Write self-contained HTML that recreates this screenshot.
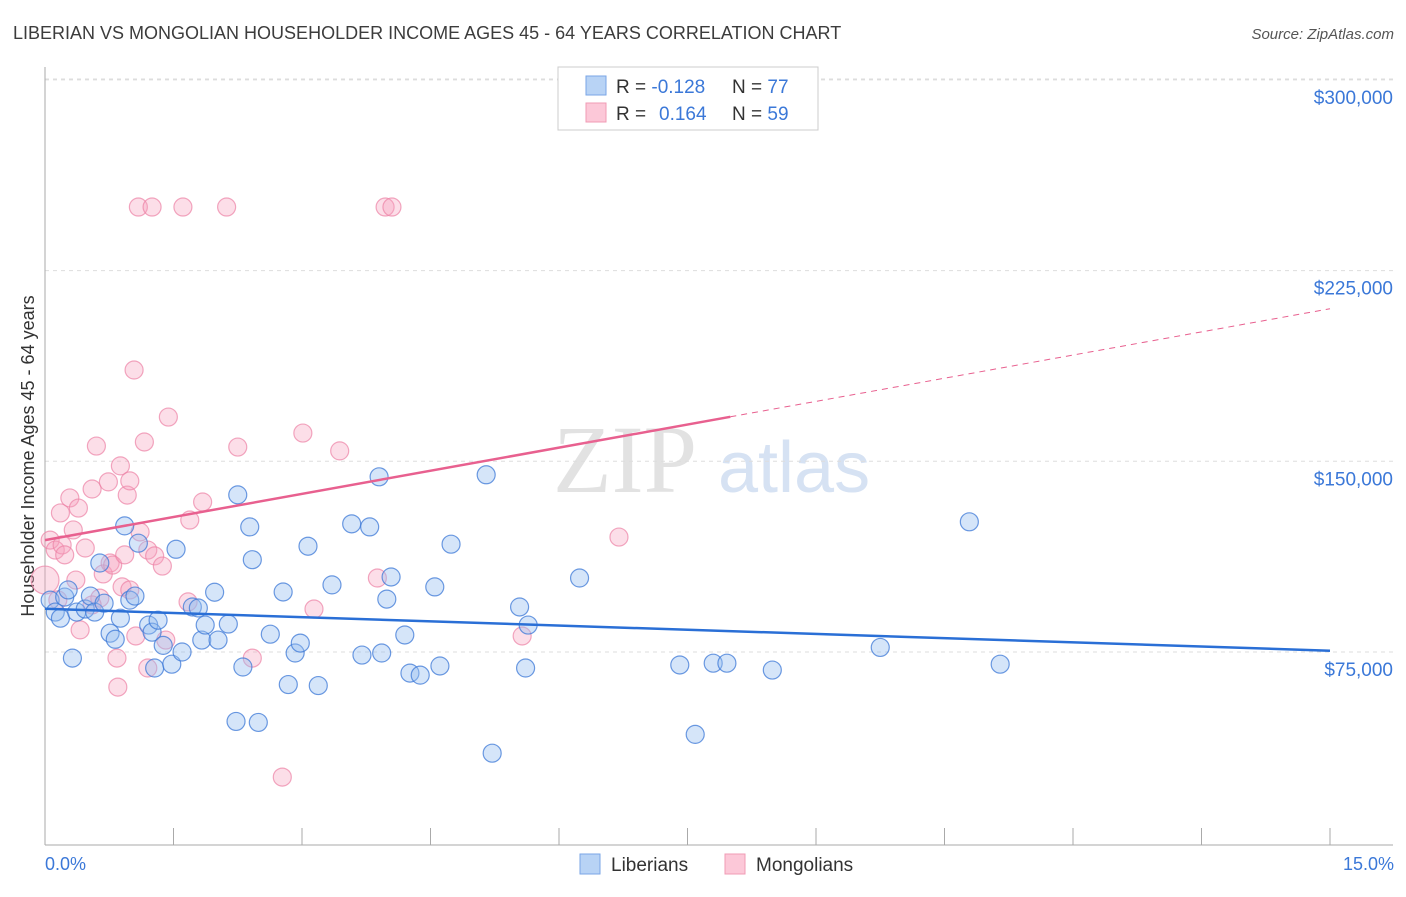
<!DOCTYPE html>
<html><head><meta charset="utf-8"><style>
body{margin:0;background:#fff;font-family:"Liberation Sans",sans-serif}
</style></head><body>
<svg id="chart" width="1406" height="892" xmlns="http://www.w3.org/2000/svg" font-family="Liberation Sans, sans-serif">
<text x="13" y="39" font-size="18" fill="#3c3c3c">LIBERIAN VS MONGOLIAN HOUSEHOLDER INCOME AGES 45 - 64 YEARS CORRELATION CHART</text>
<text x="1394" y="39" font-size="15" fill="#555" text-anchor="end" font-style="italic">Source: ZipAtlas.com</text>
<g><text x="553" y="492" font-size="96" fill="#e2e2e2" font-family="Liberation Serif, serif">ZIP</text><text x="718" y="492" font-size="72" fill="#d6e2f3">atlas</text></g>
<g id="grid"></g>
<line x1="45" y1="67" x2="45" y2="845" stroke="#aaa"/>
<line x1="45" y1="845" x2="1393" y2="845" stroke="#aaa"/>
<text transform="translate(34,456) rotate(-90)" font-size="18" fill="#333" text-anchor="middle">Householder Income Ages 45 - 64 years</text>
<text x="45" y="870" font-size="18" fill="#3b78d8">0.0%</text>
<text x="1394" y="870" font-size="18" fill="#3b78d8" text-anchor="end">15.0%</text>
<g id="pts"></g>
<g id="lines"></g>
<g>
<rect x="558" y="67" width="260" height="63" fill="#fff" stroke="#ccc"/>
<rect x="586" y="76" width="20" height="19" fill="#b8d3f5" stroke="#7aa6e6"/>
<rect x="586" y="103" width="20" height="19" fill="#fcc8d8" stroke="#f09bb5"/>
<text x="616" y="93" font-size="19" fill="#333">R = <tspan fill="#3b78d8">-0.128</tspan><tspan x="732">N = </tspan><tspan fill="#3b78d8">77</tspan></text>
<text x="616" y="120" font-size="19" fill="#333">R = <tspan x="659" fill="#3b78d8">0.164</tspan><tspan x="732">N = </tspan><tspan fill="#3b78d8">59</tspan></text>
</g>
<g>
<rect x="580" y="854" width="20" height="20" fill="#b8d3f5" stroke="#7aa6e6"/>
<text x="611" y="871" font-size="19" fill="#333">Liberians</text>
<rect x="725" y="854" width="20" height="20" fill="#fcc8d8" stroke="#f09bb5"/>
<text x="756" y="871" font-size="19" fill="#333">Mongolians</text>
</g>
</svg>
<script>
const yTicks=[75000,150000,225000,300000];
const yTickLabels=["$75,000","$150,000","$225,000","$300,000"];
const xTicks=[0,1.5,3,4.5,6,7.5,9,10.5,12,13.5,15];
const libX=[0.06,0.12,0.18,0.23,0.27,0.32,0.37,0.47,0.53,0.58,0.64,0.69,0.76,0.82,0.88,0.93,0.99,1.05,1.09,1.21,1.25,1.28,1.32,1.38,1.48,1.53,1.6,1.72,1.79,1.83,1.87,1.98,2.02,2.14,2.23,2.25,2.31,2.39,2.42,2.49,2.63,2.78,2.84,2.92,2.98,3.07,3.19,3.35,3.58,3.7,3.79,3.9,3.93,3.99,4.04,4.2,4.26,4.38,4.55,4.61,4.74,5.15,5.22,5.54,5.61,5.64,6.24,7.41,7.59,7.8,7.96,8.49,9.75,10.79,11.15];
const libY=[95.4,90.7,88.3,96.6,99.4,72.6,90.7,91.9,97,90.7,110,94.2,82.4,80,88.3,124.6,95.4,97,117.8,85.6,82.8,68.7,87.5,77.6,70.2,115.4,75,92.7,92.3,79.7,85.6,98.5,79.7,86,47.7,136.8,69.1,124.2,111.3,47.3,82,98.6,62.2,74.6,78.5,116.6,61.8,101.4,125.4,73.8,124.2,143.9,74.6,95.8,104.5,81.7,66.7,65.9,100.6,69.5,117.4,144.7,35.2,92.7,68.7,85.6,104.1,69.9,42.6,70.6,70.6,67.9,76.8,126.2,70.2];
const monX=[0.0,0.06,0.12,0.18,0.2,0.23,0.29,0.33,0.36,0.39,0.41,0.47,0.55,0.6,0.64,0.68,0.74,0.76,0.79,0.84,0.85,0.88,0.9,0.93,0.96,0.99,1.06,1.09,1.11,1.16,1.2,1.2,1.25,1.28,1.37,1.41,1.44,1.61,1.67,1.69,1.84,2.12,2.25,2.42,2.77,3.01,3.14,3.44,3.88,3.97,4.05,5.57,6.7,1.04,0.55,0.15,0.99];
const monY=[103.3,119.0,115.1,129.7,117.1,113.2,135.6,123.0,103.3,131.6,83.7,115.9,139.1,156.0,96.2,105.7,141.9,110.0,109.2,72.6,61.2,148.2,100.6,113.2,136.7,142.3,81.3,250,122.2,157.6,68.7,115.1,250,112.8,108.8,79.7,167.4,250,94.7,126.9,134.0,250,155.6,72.6,25.8,161.1,91.9,154.1,104.1,250,250,81.3,120.2,185.9,93.5,95.5,99.4];
const X=v=>45+v/15*1285;
const Y=v=>842.7-v/75000*190.7;
const NS="http://www.w3.org/2000/svg";
function mk(tag,attrs,parent){const e=document.createElementNS(NS,tag);for(const k in attrs)e.setAttribute(k,attrs[k]);parent.appendChild(e);return e;}
const grid=document.getElementById('grid');
yTicks.forEach((t,i)=>{
 const l=mk('line',{x1:45,x2:1393,y1:Y(t),y2:Y(t),stroke:'#ddd','stroke-dasharray':'4,4'},grid);
 
 
 const tx=mk('text',{x:1393,y:Y(t)+24,'font-size':19,fill:'#3b78d8','text-anchor':'end'},grid);
 tx.textContent=yTickLabels[i];
 
 
});
mk('line',{x1:45,x2:1393,y1:79,y2:79,stroke:'#ddd','stroke-dasharray':'4,4'},grid);
xTicks.forEach(t=>{
 const l=mk('line',{x1:X(t),x2:X(t),y1:828,y2:845,stroke:'#aaa'},grid);
 
 
});
const pts=document.getElementById('pts');
monX.forEach((x,i)=>{
 const c=mk('circle',{cx:X(x),cy:Y(monY[i]*1000),r:i==0?14:9,fill:'rgba(246,160,190,0.35)',stroke:'rgba(236,130,165,0.7)','stroke-width':1.2},pts);
 
 
});
libX.forEach((x,i)=>{
 const c=mk('circle',{cx:X(x),cy:Y(libY[i]*1000),r:9,fill:'rgba(150,190,240,0.4)',stroke:'rgba(60,120,215,0.75)','stroke-width':1.2},pts);
 
 
});
const lines=document.getElementById('lines');
const lb=mk('line',{x1:X(0),y1:Y(92000),x2:X(15),y2:Y(75500),stroke:'#2a6fd6','stroke-width':2.5},lines);


const lp=mk('line',{x1:X(0),y1:Y(119000),x2:X(8),y2:Y(167500),stroke:'#e8608f','stroke-width':2.5},lines);


const lpd=mk('line',{x1:X(8),y1:Y(167500),x2:X(15),y2:Y(210000),stroke:'#e8608f','stroke-width':1,'stroke-dasharray':'6,5'},lines);


</script>
</body></html>
